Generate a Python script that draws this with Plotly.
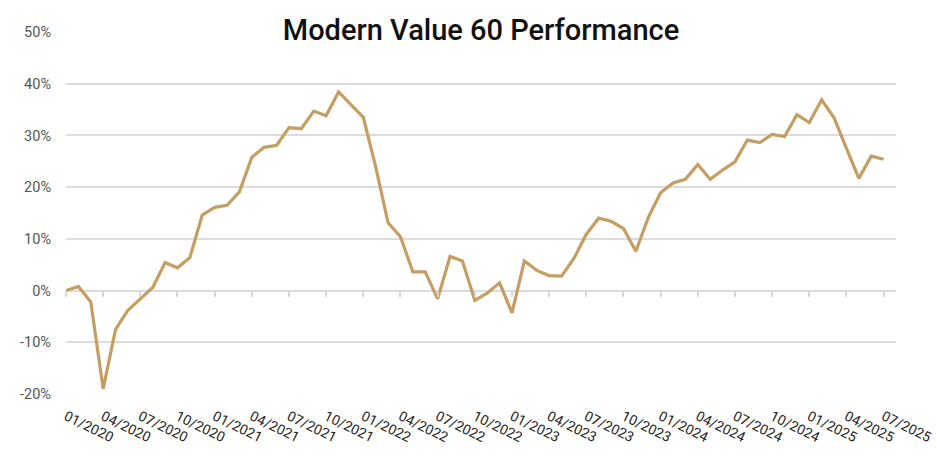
import plotly.graph_objects as go

months = [f"{m:02d}/{y}" for y in range(2020, 2026) for m in range(1, 13)][:67]
performance = [
    0.0, 0.8, -2.2, -19.0, -7.5, -3.8, -1.6, 0.6, 5.4, 4.4, 6.4, 14.6,
    16.1, 16.5, 19.1, 25.8, 27.7, 28.1, 31.5, 31.3, 34.7, 33.8, 38.4, 36.0,
    33.5, 23.9, 13.1, 10.4, 3.6, 3.6, -1.6, 6.6, 5.7, -1.9, -0.5, 1.5,
    -4.3, 5.7, 3.9, 2.9, 2.8, 6.2, 10.9, 14.0, 13.4, 12.0, 7.6, 14.1,
    18.9, 20.8, 21.5, 24.4, 21.5, 23.3, 24.9, 29.1, 28.6, 30.2, 29.8, 34.0,
    32.5, 36.9, 33.4, 27.5, 21.7, 26.0, 25.4,
]
tick_labels = months[::3]
y_ticks = [-20, -10, 0, 10, 20, 30, 40, 50]
y_tick_text = [f"{v}%" for v in y_ticks]

fig = go.Figure()
fig.add_trace(go.Scatter(
    x=months, y=performance, mode="lines",
    line=dict(color="#C49E63", width=3.2),
    hovertemplate="%{x}: %{y:.1f}%<extra></extra>",
))
# ghost trace so the tick axis at y=0 is drawn
fig.add_trace(go.Scatter(
    x=months, y=performance, xaxis="x2", mode="lines",
    line=dict(color="rgba(0,0,0,0)", width=0), hoverinfo="skip", showlegend=False,
))

font_family = "Roboto, 'Open Sans', sans-serif"
fig.update_layout(
    width=937, height=457,
    margin=dict(l=66, r=41, t=32, b=63, autoexpand=False),
    paper_bgcolor="white", plot_bgcolor="white",
    showlegend=False,
    title=dict(
        text="Modern Value 60 Performance",
        x=0.5, xref="paper", xanchor="center",
        y=1 - 30 / 457, yref="container", yanchor="middle",
        font=dict(family=font_family, size=29, color="#111111", weight=500),
    ),
    xaxis=dict(
        type="category", categoryorder="array", categoryarray=months,
        range=[0, 67], tickvals=tick_labels, ticktext=tick_labels,
        tickangle=26, showgrid=False, zeroline=False, showline=False,
        automargin=False, ticks="", ticklabelstandoff=11,
        tickfont=dict(family=font_family, size=14, color="#252423"),
    ),
    xaxis2=dict(
        type="category", categoryorder="array", categoryarray=months,
        overlaying="x", anchor="free", position=20 / 70,
        range=[0, 67], tickvals=tick_labels, showticklabels=False,
        ticks="outside", ticklen=5, tickwidth=1.6, tickcolor="#D6D6D6",
        showgrid=False, zeroline=False, showline=False, automargin=False,
    ),
    yaxis=dict(
        range=[-20, 50], tickvals=y_ticks, ticktext=y_tick_text,
        showgrid=True, gridcolor="#DCDCDC", gridwidth=1.6,
        zeroline=False, showline=False, ticks="", automargin=False,
        ticklabelstandoff=14,
        tickfont=dict(family=font_family, size=14.5, color="#555555"),
    ),
)

fig.write_html(
    "out.html",
    config={"displayModeBar": False},
    post_script="document.body.style.margin='0';document.body.style.overflow='hidden';",
)
